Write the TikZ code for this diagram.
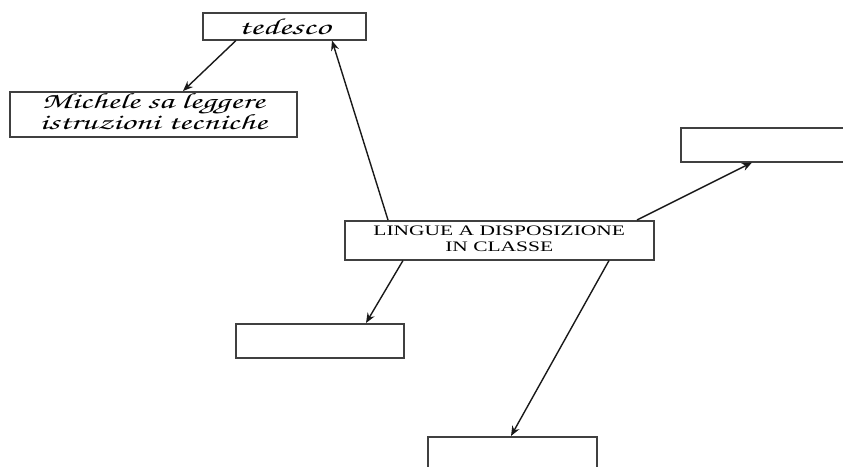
\documentclass[tikz,border=0pt]{standalone}
\usepackage[T1]{fontenc}
\usepackage{fontspec}
\setmainfont{Liberation Serif}
\usepackage{graphicx}
\usetikzlibrary{arrows.meta}

% handwriting-like face for the filled-in boxes
\newcommand\handfont{\fontencoding{T1}\fontfamily{pzc}\fontseries{mb}\fontshape{it}\selectfont}

\tikzset{
  box/.style={draw=black!75, line width=1.5pt, fill=white, inner sep=0pt, anchor=north west},
  link/.style={draw=black!90, line width=1.4pt, -{Stealth[length=10pt,width=8pt]}},
}

\begin{document}
\begin{tikzpicture}[x=1pt,y=-1pt]
  \useasboundingbox (0,0) rectangle (843,466);

  % boxes
  \node[box, minimum width=163pt, minimum height=27pt] (tedesco) at (202,12)
    {\scalebox{1.6}[1]{\handfont\fontsize{23}{20}\selectfont tedesco}};
  \node[box, minimum width=287pt, minimum height=45pt] (michele) at (9,91)
    {\scalebox{1.6}[1]{\handfont\fontsize{22}{20}\selectfont
      \begin{tabular}{@{}c@{}}Michele sa leggere\\[-1pt] istruzioni tecniche\end{tabular}}};
  \node[box, minimum width=309pt, minimum height=39pt] (central) at (344,220)
    {\scalebox{1.48}[1]{\fontsize{14.5}{16}\selectfont
      \begin{tabular}{@{}c@{}}LINGUE A DISPOSIZIONE\\[0pt] IN CLASSE\end{tabular}}};
  \node[box, minimum width=190pt, minimum height=34pt] (right) at (680,127) {};
  \node[box, minimum width=168pt, minimum height=34pt] (lowleft) at (235,323) {};
  \node[box, minimum width=169pt, minimum height=40pt] (bottom) at (427,436) {};

  % connectors
  \draw[link] ([xshift=44pt]central.north west) -- ([xshift=130pt]tedesco.south west);
  \draw[link] ([xshift=34pt]tedesco.south west) -- ([xshift=174pt]michele.north west);
  \draw[link] ([xshift=293pt]central.north west) -- ([xshift=72pt]right.south west);
  \draw[link] ([xshift=59pt]central.south west) -- ([xshift=131pt]lowleft.north west);
  \draw[link] ([xshift=265pt]central.south west) -- ([xshift=84pt]bottom.north west);
\end{tikzpicture}
\end{document}
